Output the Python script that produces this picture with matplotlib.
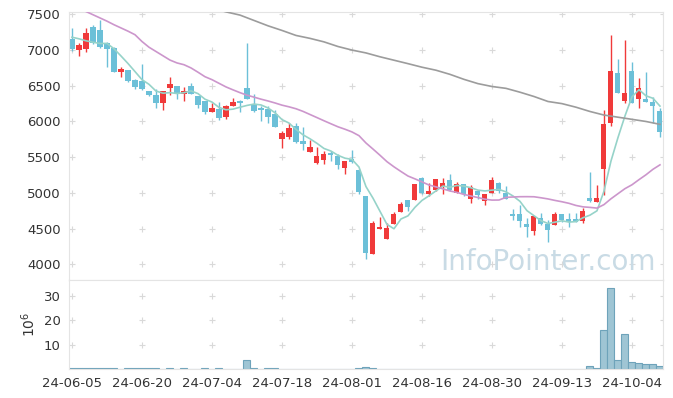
import numpy as np
import matplotlib.pyplot as plt

# daily candles, index 0 = 24-06-05 (trading days only)
opens = [7154, 6996, 7018, 7318, 7280, 7102, 7032, 6696, 6720, 6580,
         6562, 6426, 6370, 6254, 6464, 6496, 6388, 6496, 6356, 6286,
         6132, 6178, 6066, 6220, 6290, 6464, 6244, 6192, 6170, 6104,
         5750, 5786, 5936, 5726, 5576, 5422, 5464, 5554, 5520, 5352,
         5474, 5320, 4956, 4148, 4490, 4358, 4568, 4736, 4900, 4900,
         5212, 4980, 5044, 5086, 5180, 5002, 5124, 4914, 5026, 4890,
         5002, 5142, 4994, 4704, 4704, 4564, 4470, 4644, 4560, 4550,
         4700, 4634, 4630, 4610, 4924, 4876, 5330, 5974, 6674, 6286,
         6706, 6318, 6314, 6276, 6146]
highs = [7304, 7094, 7312, 7350, 7420, 7110, 7040, 6766, 6724, 6590,
         6800, 6430, 6454, 6430, 6622, 6500, 6486, 6534, 6360, 6290,
         6258, 6276, 6230, 6324, 6296, 7094, 6380, 6216, 6216, 6160,
         5866, 5974, 5974, 5926, 5740, 5646, 5580, 5586, 5544, 5446,
         5600, 5340, 4960, 4610, 4666, 4582, 4736, 4868, 4900, 5130,
         5226, 5134, 5200, 5204, 5260, 5150, 5130, 5110, 5030, 4990,
         5218, 5146, 5094, 4770, 4830, 4644, 4676, 4714, 4620, 4728,
         4704, 4722, 4722, 4784, 5288, 5110, 6160, 7210, 6870, 7140,
         6836, 6612, 6688, 6346, 6184]
lows = [6986, 6912, 6976, 7090, 7024, 6766, 6690, 6626, 6548, 6460,
        6440, 6350, 6184, 6160, 6370, 6314, 6286, 6380, 6184, 6108,
        6128, 6020, 6040, 6216, 6126, 6310, 6136, 6010, 5982, 5920,
        5624, 5750, 5694, 5600, 5570, 5400, 5410, 5450, 5330, 5260,
        5420, 4990, 4070, 4148, 4490, 4358, 4568, 4736, 4750, 4900,
        4980, 4956, 5030, 4980, 5030, 5000, 4960, 4862, 4914, 4830,
        5000, 5002, 4910, 4620, 4518, 4386, 4410, 4550, 4316, 4550,
        4592, 4518, 4590, 4574, 4876, 4876, 4970, 5936, 6394, 6254,
        6262, 6184, 6276, 5974, 5786]
closes = [7014, 7070, 7234, 7098, 7046, 7018, 6696, 6730, 6570, 6482,
          6450, 6370, 6258, 6422, 6520, 6388, 6426, 6388, 6230, 6128,
          6188, 6052, 6220, 6276, 6262, 6314, 6146, 6160, 6066, 5926,
          5834, 5904, 5716, 5688, 5646, 5516, 5544, 5534, 5390, 5446,
          5432, 5008, 4164, 4582, 4526, 4512, 4704, 4848, 4802, 5124,
          4994, 5026, 5194, 5138, 5040, 5124, 4980, 5078, 4970, 4984,
          5180, 5030, 4910, 4680, 4610, 4526, 4676, 4564, 4480, 4704,
          4620, 4588, 4596, 4750, 4886, 4924, 5960, 6706, 6394, 6402,
          6262, 6464, 6276, 6220, 5856]
# volume in millions of shares
volumes = [0.4, 0.4, 0.4, 0.4, 0.4, 0.4, 0.4, 0, 0.4, 0.4,
           0.4, 0.4, 0.4, 0, 0.35, 0, 0.35, 0, 0, 0.35,
           0, 0.35, 0, 0, 0, 3.5, 0.4, 0, 0.35, 0.35,
           0, 0, 0, 0, 0, 0, 0, 0, 0, 0,
           0, 0.5, 0.9, 0.5, 0, 0, 0, 0, 0, 0,
           0, 0, 0, 0, 0, 0, 0, 0, 0, 0,
           0, 0, 0, 0, 0, 0, 0, 0, 0, 0,
           0, 0, 0, 0, 1.4, 0.45, 15.9, 33.5, 3.9, 14.6,
           3.0, 2.6, 2.2, 2.2, 1.4]

# moving average values before enough history is on the chart
ma5_head = [7180, 7158, 7130, 7110]
ma20_head = [7640, 7590, 7540, 7495, 7450, 7405, 7355, 7310, 7265, 7215,
             7120, 7040, 6980, 6920, 6860, 6820, 6795, 6750, 6690]
# long moving average (every 2nd day)
ma120_idx = list(range(20, 85, 2))
ma120 = [7590, 7535, 7490, 7415, 7340, 7275, 7205, 7164, 7115, 7050,
         7000, 6960, 6906, 6858, 6810, 6760, 6718, 6660, 6590, 6530,
         6490, 6464, 6410, 6350, 6280, 6250, 6200, 6140, 6090, 6060,
         6030, 6000, 5960]

tick_labels = ['24-06-05', '24-06-20', '24-07-04', '24-07-18', '24-08-01',
               '24-08-16', '24-08-30', '24-09-13', '24-10-04']

o = np.array(opens, dtype=float)
h = np.array(highs, dtype=float)
l = np.array(lows, dtype=float)
c = np.array(closes, dtype=float)
v = np.array(volumes)
n = len(c)
x = np.arange(n)

ma5 = np.concatenate([ma5_head, np.convolve(c, np.ones(5) / 5, mode='valid')])
ma20 = np.concatenate([ma20_head, np.convolve(c, np.ones(20) / 20, mode='valid')])

up_col = '#f03a3a'
dn_col = '#6cc0d8'
cols = [up_col if cc >= oo else dn_col for oo, cc in zip(o, c)]
grid_col = '#d9d9d9'
spine_col = '#e4e4e4'

fig = plt.figure(figsize=(6.73, 3.98), dpi=100)
ax = fig.add_axes([0.1025, 0.2965, 0.8826, 0.6733])
ax2 = fig.add_axes([0.1025, 0.0729, 0.8826, 0.2236], sharex=ax)

xlim = (-0.43, n - 1 + 0.43)
xt = list(range(0, n, 10))

# price panel
ax.vlines(x, l, h, colors=cols, lw=1, zorder=2)
body = np.maximum(np.abs(c - o), 12)
ax.bar(x, body, bottom=np.minimum(o, c), width=0.72, color=cols, zorder=2)
ax.plot(x, ma5, color='#96d3c9', lw=1.2, zorder=3)
ax.plot(x, ma20, color='#cc96cc', lw=1.2, zorder=3)
ax.plot(ma120_idx, ma120, color='#9c9c9c', lw=1.2, zorder=3)

yt = np.arange(4000, 7501, 500)
gx, gy = np.meshgrid(xt + [xlim[1]], yt)
ax.scatter(gx.ravel(), gy.ravel(), marker='+', s=22, color=grid_col, lw=0.8, zorder=0)
ax.set_ylim(3780, 7533)
ax.set_yticks(yt)
ax.text(0.988, 0.037, 'InfoPointer.com', transform=ax.transAxes, ha='right',
        va='baseline', fontsize=20, color='#c9dbe5', zorder=1)

# volume panel
ax2.bar(x, v, width=1.0, color='#9fc5d4', edgecolor='#6ea3ba', lw=0.8, zorder=2)
vt = [10, 20, 30]
gx, gy = np.meshgrid(xt + [xlim[1]], vt)
ax2.scatter(gx.ravel(), gy.ravel(), marker='+', s=22, color=grid_col, lw=0.8, zorder=0)
ax2.set_ylim(0, 36.7)
ax2.set_yticks(vt)
ax2.set_ylabel(r'$10^6$', fontsize=10, color='#333333', labelpad=4)
ax2.set_xlim(*xlim)
ax2.set_xticks(xt)
ax2.set_xticklabels(tick_labels)

for a in (ax, ax2):
    for s in a.spines.values():
        s.set_color(spine_col)
    a.tick_params(length=0, labelsize=9.5, labelcolor='#333333', pad=6)
ax.tick_params(labelbottom=False)

fig.savefig('out.png', dpi=100)
